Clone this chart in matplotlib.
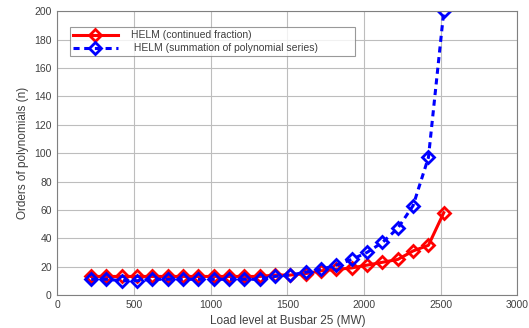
import numpy as np
import matplotlib.pyplot as plt

# Load levels (MW) and polynomial orders
load = [220, 320, 420, 520, 620, 720, 820, 920, 1020, 1120, 1220, 1320,
        1420, 1520, 1620, 1720, 1820, 1920, 2020, 2120, 2220, 2320, 2420, 2520]
cont_frac = [13, 13, 13, 13, 13, 13, 13, 13, 13, 13, 13, 13,
             14, 14, 15, 17, 18, 19, 21, 23, 25, 31, 35, 58]
poly_sum = [11, 11, 10, 10, 11, 11, 11, 11, 11, 11, 11, 11,
            13, 14, 16, 18, 21, 25, 30, 37, 47, 63, 97, 200]

grey = '#404040'
plt.rcParams['font.family'] = ['Liberation Sans', 'DejaVu Sans']

fig = plt.figure(figsize=(5.29, 3.28), dpi=100)
ax = fig.add_axes([0.1085, 0.101, 0.8695, 0.864])

ax.plot(load, cont_frac, color='red', lw=2.2, marker='D', ms=6, mfc='none',
        mew=2, label='HELM (continued fraction)')
ax.plot(load, poly_sum, color='blue', lw=2.2, ls=(0, (2, 1.5)), marker='D', ms=6,
        mfc='none', mew=2, label=' HELM (summation of polynomial series)')

ax.set_xlim(0, 3000)
ax.set_ylim(0, 200)
ax.set_xticks(np.arange(0, 3001, 500))
ax.set_yticks(np.arange(0, 201, 20))
ax.grid(True, color='#bdbdbd', lw=0.8)
ax.tick_params(labelsize=7.5, colors=grey, length=0, pad=4)
for s in ax.spines.values():
    s.set_color('#808080')
    s.set_linewidth(0.8)

ax.set_xlabel('Load level at Busbar 25 (MW)', fontsize=8.5, color=grey, labelpad=3)
ax.set_ylabel('Orders of polynomials (n)', fontsize=8.5, color=grey, labelpad=4)

leg = ax.legend(loc='upper left', bbox_to_anchor=(0.027, 0.835, 0.62, 0.11),
                mode='expand', fontsize=7.5,
                frameon=True, fancybox=False, edgecolor='#808080',
                handlelength=4.3, handletextpad=1.3, borderpad=0.3,
                labelspacing=0.3, borderaxespad=0)
leg.get_frame().set_linewidth(0.8)
for t in leg.get_texts():
    t.set_color(grey)

fig.savefig('out.png', dpi=100)
